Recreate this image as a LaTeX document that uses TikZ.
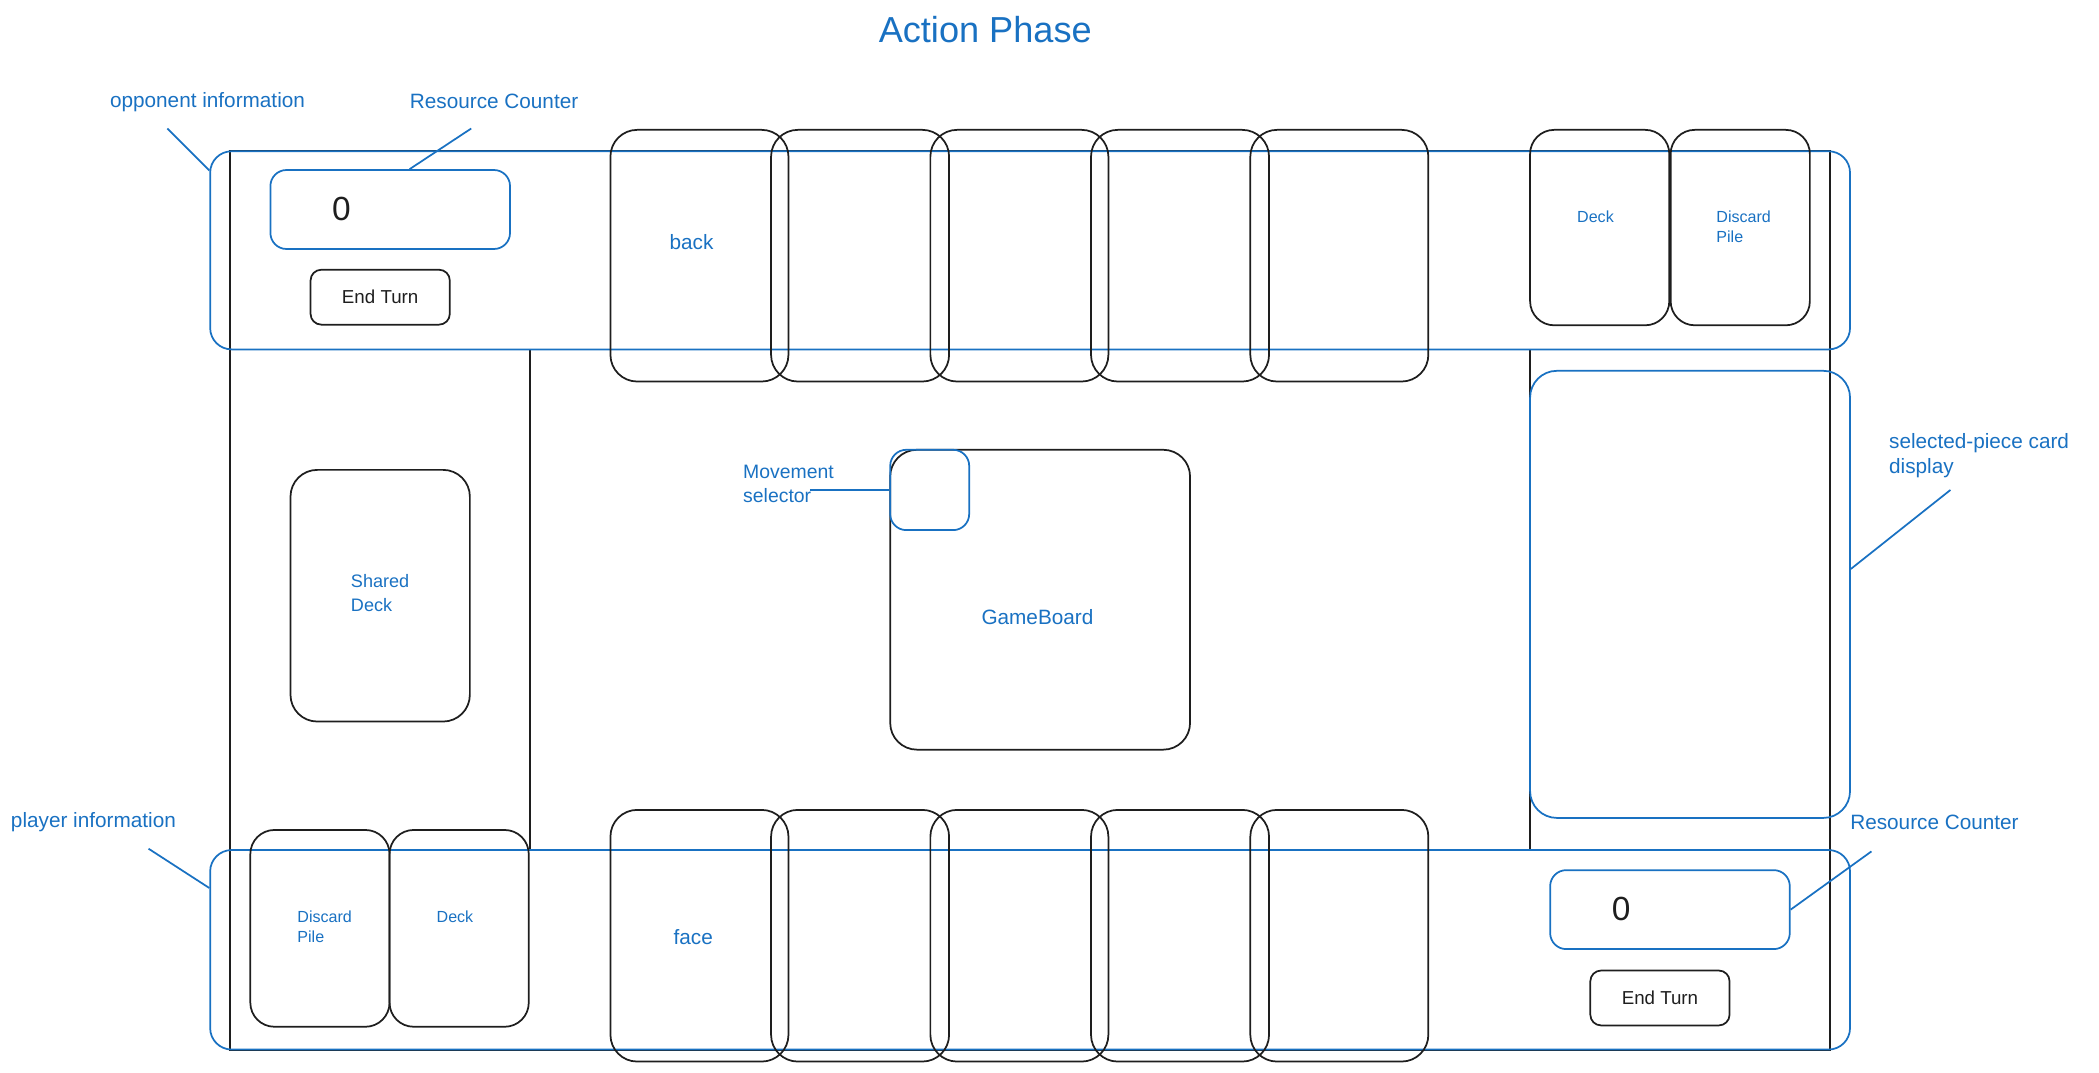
\documentclass[tikz,border=0pt]{standalone}
\usepackage{fontspec}
\setmainfont{Liberation Sans}
\usetikzlibrary{calc}
\definecolor{exblue}{HTML}{1971C2}
\definecolor{exblack}{HTML}{1E1E1E}
\begin{document}
\begin{tikzpicture}[x=1pt,y=-1pt,
  frame/.style={draw=exblack, line width=1pt, inner sep=0pt},
  cardbox/.style={draw=exblack, line width=1.3pt, rounded corners=20pt, inner sep=0pt, minimum width=133pt, minimum height=188pt},
  pilebox/.style={draw=exblack, line width=1.3pt, rounded corners=18pt, inner sep=0pt, minimum width=104pt, minimum height=147pt},
  bluebox/.style={draw=exblue, line width=1.3pt, inner sep=0pt},
  btnbox/.style={draw=exblack, line width=1.3pt, rounded corners=8pt, inner sep=0pt, minimum width=104pt, minimum height=41pt, font=\fontsize{14}{17}\selectfont, text=exblack},
  captxt/.style={text=exblue, inner sep=0pt, font=\fontsize{15.5}{19}\selectfont, align=left},
  smallcaptxt/.style={text=exblue, inner sep=0pt, font=\fontsize{12}{15}\selectfont, align=left},
  counttxt/.style={text=exblack, inner sep=0pt, font=\fontsize{25}{28}\selectfont},
  leadline/.style={draw=exblue, line width=1.3pt}
]
\useasboundingbox (0,0) rectangle (1568,801);

% title
\node[text=exblue, inner sep=0pt, font=\fontsize{27}{32}\selectfont] (title) at (736,22) {Action Phase};

% board frames
\node[frame, line width=1.5pt, minimum width=1195pt, minimum height=671pt] (board) at (769.5,448.5) {};
\node[frame, minimum width=747pt, minimum height=374pt] (arena) at (769.5,448) {};

% opponent / player info areas
\node[bluebox, rounded corners=16pt, minimum width=1225pt, minimum height=148pt] (opp) at (769.5,187) {};
\node[bluebox, rounded corners=16pt, minimum width=1225pt, minimum height=149pt] (player) at (769.5,709.5) {};

% resource counters and end turn buttons
\node[bluebox, rounded corners=12pt, minimum width=179pt, minimum height=59pt] (rc1) at (291.5,156.5) {};
\node[counttxt] (rc1val) at (255,156) {0};
\node[btnbox] (et1) at (284,222) {End Turn};
\node[bluebox, rounded corners=12pt, minimum width=179pt, minimum height=59pt] (rc2) at (1247.5,679.5) {};
\node[counttxt] (rc2val) at (1211,679) {0};
\node[btnbox] (et2) at (1240,745.5) {End Turn};

% top hand (opponent)
\node[cardbox] (t1) at (522.5,191) {};
\node[cardbox] (t2) at (642.5,191) {};
\node[cardbox] (t3) at (761.5,191) {};
\node[cardbox] (t4) at (881.5,191) {};
\node[cardbox] (t5) at (1000.5,191) {};
\node[captxt, anchor=west] (backtxt) at (500,181) {back};

% bottom hand (player)
\node[cardbox] (b1) at (522.5,699) {};
\node[cardbox] (b2) at (642.5,699) {};
\node[cardbox] (b3) at (761.5,699) {};
\node[cardbox] (b4) at (881.5,699) {};
\node[cardbox] (b5) at (1000.5,699) {};
\node[captxt, anchor=west] (facetxt) at (503,700) {face};

% opponent deck / discard
\node[pilebox, minimum height=146pt] (odeck) at (1195,170) {};
\node[pilebox, minimum height=146pt] (odisc) at (1300,170) {};
\node[smallcaptxt, anchor=west] (odecktxt) at (1178,162) {Deck};
\node[smallcaptxt, anchor=north west] (odisctxt) at (1282,157) {Discard\\Pile};

% player discard / deck
\node[pilebox] (pdisc) at (239,693.5) {};
\node[pilebox] (pdeck) at (343,693.5) {};
\node[smallcaptxt, anchor=north west] (pdisctxt) at (222,680) {Discard\\Pile};
\node[smallcaptxt, anchor=west] (pdecktxt) at (326,685) {Deck};

% shared deck
\node[cardbox, minimum width=134pt] (shared) at (284,445) {};
\node[captxt, font=\fontsize{13.5}{18}\selectfont, anchor=north west] (sharedtxt) at (262,429) {Shared\\Deck};

% game board and movement selector
\node[draw=exblack, line width=1.3pt, rounded corners=20pt, inner sep=0pt, minimum width=224pt, minimum height=224pt] (gb) at (777,448) {};
\node[captxt] (gbtxt) at (775,461) {GameBoard};
\node[bluebox, rounded corners=12pt, minimum width=59pt, minimum height=60pt] (mov) at (694.5,366) {};
\node[captxt, font=\fontsize{14.5}{18}\selectfont, anchor=north west] (movtxt) at (555,347) {Movement\\selector};

% selected piece display
\node[bluebox, rounded corners=20pt, minimum width=239pt, minimum height=334pt] (sel) at (1262.5,444) {};
\node[captxt, font=\fontsize{15.5}{19}\selectfont, anchor=north west] (seltxt) at (1411,323.5) {selected-piece card\\display};

% annotation captions
\node[captxt, anchor=west] (opptxt) at (82,76) {opponent information};
\node[captxt, anchor=west] (rc1txt) at (306,76) {Resource Counter};
\node[captxt, anchor=west] (rc2txt) at (1382,614) {Resource Counter};
\node[captxt, anchor=west] (playertxt) at (8,614) {player information};

% leader lines
\coordinate (oppL) at (125,96);
\coordinate (rc1L) at (352,96);
\coordinate (selL) at (1457,366);
\coordinate (rc2L) at (1398,636);
\coordinate (playerL) at (111,634);
\coordinate (movL) at (605,366);
\draw[leadline] (oppL) -- ($(opp.north west)+(0,15)$);
\draw[leadline] (rc1L) -- ($(rc1.north)+(14.5,0)$);
\draw[leadline] (selL) -- ($(sel.east)+(0,-19)$);
\draw[leadline] (rc2L) -- (rc2.east);
\draw[leadline] (playerL) -- ($(player.north west)+(0,29)$);
\draw[leadline] (movL) -- (mov.west);
\end{tikzpicture}
\end{document}
